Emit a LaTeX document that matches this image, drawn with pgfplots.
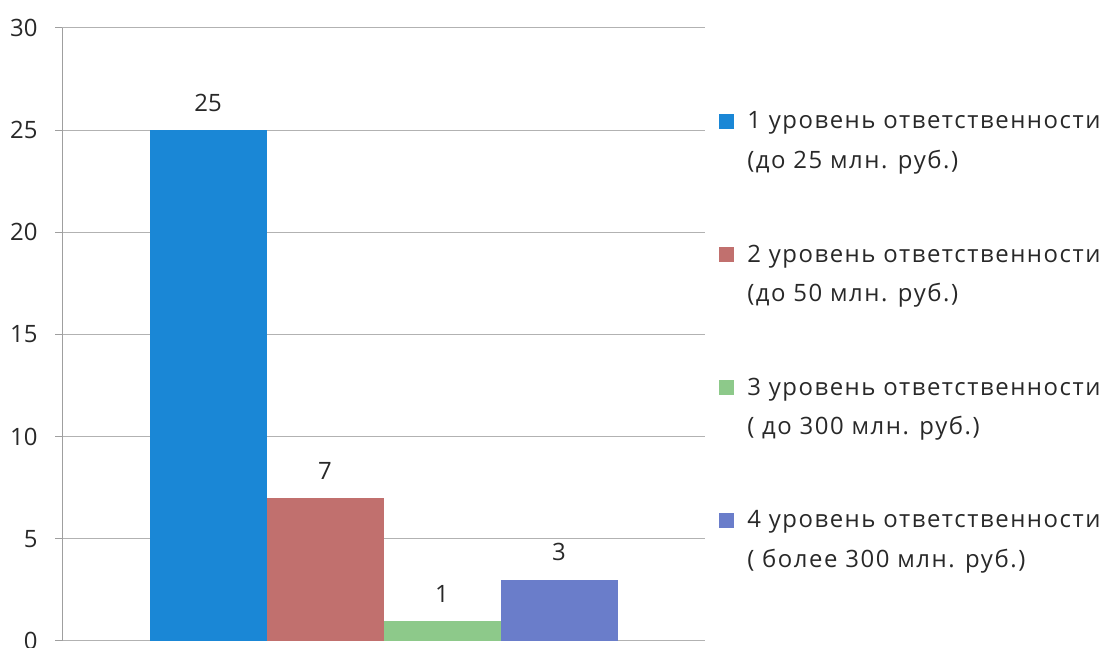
\documentclass[border=0pt]{standalone}
\usepackage{fontspec}
\setmainfont{Open Sans}
\usepackage{pgfplots}
\pgfplotsset{compat=1.18}
\definecolor{cA}{RGB}{26,135,214}
\definecolor{cB}{RGB}{193,112,110}
\definecolor{cC}{RGB}{141,201,138}
\definecolor{cD}{RGB}{106,125,202}
\definecolor{txt}{RGB}{40,40,40}
\newcommand{\fs}{\fontsize{24}{40}\selectfont}
\begin{document}
\begin{tikzpicture}[x=1bp,y=1bp]
\path[use as bounding box] (0,0) rectangle (1114,648);
\begin{axis}[
  at={(62bp,7bp)}, anchor=south west,
  scale only axis, width=643bp, height=613bp,
  xmin=-1, xmax=1, ymin=0, ymax=30,
  ytick={0,5,...,30},
  axis x line=none, axis y line*=left,
  axis line style={gray!75, line width=1bp, -},
  ymajorgrids, grid style={gray!60, line width=1bp},
  tick align=outside, major tick length=7bp,
  ytick style={gray!75, line width=1bp},
  yticklabel style={font=\fs, text=txt, xshift=-14bp},
  /pgf/number format/assume math mode=true,
  ybar=0pt, bar width=117bp,
  nodes near coords,
  every node near coord/.append style={font=\fs, text=txt, yshift=15bp},
  legend style={at={(1.022,0.886)}, anchor=north west, draw=none, fill=none,
    font={\fs\addfontfeature{LetterSpace=6.5}}, text=txt, inner sep=0pt, row sep=47bp,
    nodes={inner sep=2bp},
    cells={anchor=west, align=left}},
  legend image code/.code={\fill[#1] (0bp,12.5bp) rectangle (15bp,27.5bp); \path[draw=none,fill=none] (0bp,-43bp) rectangle (26bp,43bp);},
]
\addplot[fill=cA, draw=none] coordinates {(0,25)};
\addplot[fill=cB, draw=none] coordinates {(0,7)};
\addplot[fill=cC, draw=none] coordinates {(0,1)};
\addplot[fill=cD, draw=none] coordinates {(0,3)};
\legend{1 уровень ответственности\\(до 25 млн. руб.),
        2 уровень ответственности\\(до 50 млн. руб.),
        3 уровень ответственности\\( до 300 млн. руб.),
        4 уровень ответственности\\( более 300 млн. руб.)}
\end{axis}
\end{tikzpicture}
\end{document}
